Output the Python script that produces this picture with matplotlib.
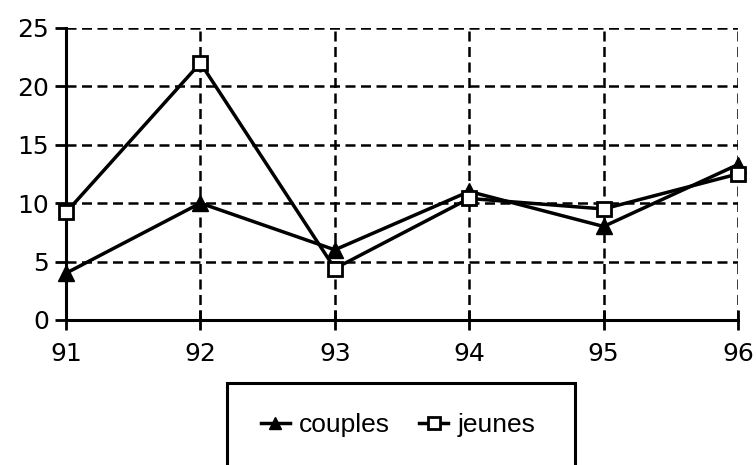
import matplotlib.pyplot as plt
from matplotlib.patches import Rectangle

# %%
years = [91, 92, 93, 94, 95, 96]
couples = [4, 10, 6, 11, 8, 13.3]
jeunes = [9.2, 22, 4.4, 10.4, 9.5, 12.5]
y_ticks = [0, 5, 10, 15, 20, 25]

plt.rcParams["font.family"] = "DejaVu Sans"

# %%
fig = plt.figure(figsize=(7.56, 4.65), dpi=100)
ax = fig.add_axes([0.0873, 0.312, 0.8889, 0.628])

ax.plot(years, couples, color="black", lw=2.5, marker="^", ms=11,
        mfc="black", mec="black", label="couples", zorder=3, clip_on=False)
ax.plot(years, jeunes, color="black", lw=2.5, marker="s", ms=10,
        mfc="white", mec="black", mew=2, label="jeunes", zorder=4, clip_on=False)

ax.set_xlim(91, 96)
ax.set_ylim(0, 25)
ax.set_xticks(years)
ax.set_yticks(y_ticks)
ax.grid(True, color="black", lw=1.8, ls=(0, (4, 2.2)))
ax.set_axisbelow(True)
for s in ["top", "right"]:
    ax.spines[s].set_visible(False)
for s in ["left", "bottom"]:
    ax.spines[s].set_linewidth(2.2)
ax.tick_params(axis="y", direction="out", length=8, width=2, labelsize=18, pad=4)
ax.tick_params(axis="x", direction="inout", length=14, width=2, labelsize=18, pad=9)

# legend box runs off the bottom of the picture
fig.patches.append(Rectangle((227 / 756, -0.05), 348 / 756, 1 - 383 / 465 + 0.05,
                             transform=fig.transFigure, fill=False,
                             ec="black", lw=2.2, clip_on=False))
leg = fig.legend(loc="center", bbox_to_anchor=(398 / 756, 1 - 425 / 465), ncol=2,
                 frameon=False, handlelength=1.1, columnspacing=1.1,
                 handletextpad=0.35, markerscale=0.85,
                 prop={"family": "Liberation Sans", "size": 19})

fig.savefig("out.png", dpi=100)
